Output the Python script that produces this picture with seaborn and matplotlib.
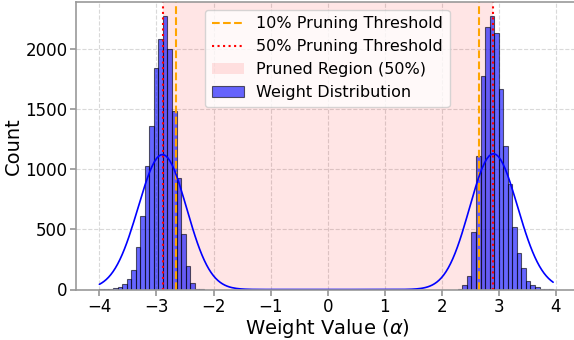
import numpy as np
import pandas as pd
import matplotlib
matplotlib.use("Agg")
import matplotlib.pyplot as plt
import seaborn as sns

# histogram binning of the weights (100 bins over the data range)
bin_edges = list(np.linspace(-4.0, 3.95, 101))

# counts per bin
left_first_bin = 0
left_counts = [1, 2, 4, 12, 20, 42, 85, 165, 351, 614, 1025, 1365, 1847, 2089,
               2279, 2000, 1483, 927, 460, 195, 55, 8, 1]
right_first_bin = 79
right_counts = [3, 35, 110, 477, 1114, 1777, 2181, 2279, 2139, 1671, 1198, 877,
                524, 305, 175, 71, 40, 21, 6, 2, 1]

thr_10 = 2.65
thr_50 = 2.89

edges = np.array(bin_edges)
centers = (edges[:-1] + edges[1:]) / 2
idx = list(range(left_first_bin, left_first_bin + len(left_counts))) + \
      list(range(right_first_bin, right_first_bin + len(right_counts)))
df = pd.DataFrame({"weight": centers[idx], "count": left_counts + right_counts})

sns.set_theme(style="whitegrid")
plt.rcParams["font.family"] = ["DejaVu Sans"]
plt.rcParams["text.color"] = "black"
plt.rcParams["axes.labelcolor"] = "black"

fig = plt.figure(figsize=(5.74, 3.4), dpi=100)
ax = fig.add_axes([76 / 574, 50.5 / 340, 502.8 / 574, 287.5 / 340])

ax.axvline(-thr_10, color="orange", linestyle="--", linewidth=1.5, label="10% Pruning Threshold")
ax.axvline(thr_10, color="orange", linestyle="--", linewidth=1.5)
ax.axvline(-thr_50, color="red", linestyle=":", linewidth=1.5, label="50% Pruning Threshold")
ax.axvline(thr_50, color="red", linestyle=":", linewidth=1.5)
ax.axvspan(-thr_50, thr_50, color="red", alpha=0.1, linewidth=0, label="Pruned Region (50%)")

sns.histplot(data=df, x="weight", weights="count", bins=bin_edges, kde=True,
             color="blue", alpha=0.6, edgecolor=(0, 0, 0, 0.6), linewidth=0.8,
             kde_kws=dict(bw_method=0.122, cut=1, clip=(-4.0, 3.95)),
             line_kws=dict(linewidth=1.2),
             label="Weight Distribution", ax=ax)

ax.set_xlim(-4.41, 4.4)
ax.set_xlabel(r"Weight Value ($\alpha$)", fontsize=14, labelpad=1)
ax.set_ylabel("Count", fontsize=14, labelpad=2)
ax.tick_params(labelsize=12, length=4, pad=2, color="0.6", labelcolor="black",
               bottom=True, left=True)
ax.grid(True, linestyle="--", color="0.85", linewidth=0.8)
for s in ax.spines.values():
    s.set_color("0.6")
    s.set_linewidth(1.2)

ax.legend(loc="upper center", fontsize=11.5)

fig.savefig("out.png", dpi=100)
